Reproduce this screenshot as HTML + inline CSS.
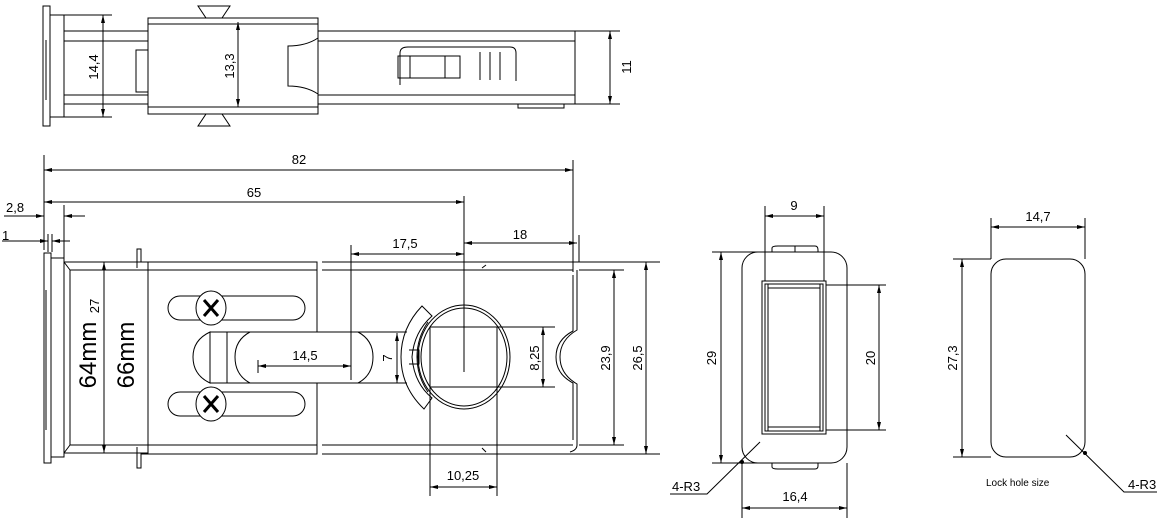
<!DOCTYPE html>
<html><head><meta charset="utf-8"><style>
html,body{margin:0;padding:0;background:#fff}
svg{display:block}
text{font-family:"Liberation Sans Narrow","Liberation Sans",sans-serif;font-size:13px;fill:#000}
</style></head><body>
<svg width="1168" height="528" viewBox="0 0 1168 528" xmlns="http://www.w3.org/2000/svg">
<defs>
<marker id="a" viewBox="0 0 8 4" refX="8" refY="2" markerWidth="8" markerHeight="4" orient="auto-start-reverse"><path d="M0,0L8,2L0,4z" fill="#000"/></marker>
</defs>
<g fill="none" stroke="#000" stroke-width="1">
<!-- TOP VIEW -->
<rect x="43" y="6" width="7" height="120"/>
<rect x="50" y="15" width="14" height="102"/>
<line x1="46" y1="40" x2="46" y2="100"/>
<line x1="64" y1="31" x2="148" y2="31"/><line x1="64" y1="41" x2="148" y2="41"/>
<line x1="64" y1="95" x2="148" y2="95"/><line x1="64" y1="104" x2="148" y2="104"/>
<line x1="64" y1="15" x2="112" y2="15"/><line x1="64" y1="117" x2="112" y2="117"/>
<line x1="103" y1="15" x2="103" y2="117" marker-start="url(#a)" marker-end="url(#a)"/>
<rect x="136" y="50" width="12" height="42"/>
<rect x="148" y="18" width="170" height="96"/>
<line x1="148" y1="24" x2="318" y2="24"/><line x1="148" y1="107" x2="318" y2="107"/>
<line x1="238" y1="22" x2="238" y2="107" marker-start="url(#a)" marker-end="url(#a)"/>
<path d="M198,6H230L222,18H206Z"/><path d="M206,114H222L230,126H198Z"/>
<path d="M318,31H575V104H318"/><line x1="318" y1="41" x2="575" y2="41"/><line x1="318" y1="95" x2="575" y2="95"/>
<path d="M318,38 Q306,46 288,46 V86 Q306,86 318,94"/>
<path d="M400,85 V53 Q400,47 408,47 H510 Q516,47 516,53 V81"/>
<rect x="398" y="56" width="62" height="22"/><line x1="410" y1="56" x2="410" y2="78"/><line x1="445" y1="56" x2="445" y2="78"/>
<line x1="480" y1="52" x2="480" y2="80"/><line x1="490" y1="52" x2="490" y2="80"/><line x1="500" y1="52" x2="500" y2="80"/>
<rect x="518" y="104" width="46" height="4"/>
<line x1="575" y1="31" x2="620" y2="31"/><line x1="575" y1="104" x2="620" y2="104"/>
<line x1="610" y1="31" x2="610" y2="104" marker-start="url(#a)" marker-end="url(#a)"/>

<!-- DIMENSIONS ABOVE -->
<line x1="44" y1="155" x2="44" y2="250"/>
<line x1="573" y1="160" x2="573" y2="272"/>
<line x1="464" y1="196" x2="464" y2="372"/>
<line x1="44" y1="170" x2="573" y2="170" marker-start="url(#a)" marker-end="url(#a)"/>
<line x1="44" y1="202" x2="464" y2="202" marker-start="url(#a)" marker-end="url(#a)"/>
<line x1="4" y1="216" x2="44" y2="216" marker-end="url(#a)"/><line x1="85" y1="216" x2="64" y2="216" marker-end="url(#a)"/>
<line x1="64" y1="205" x2="64" y2="258"/>
<line x1="2" y1="241" x2="48" y2="241" marker-end="url(#a)"/><line x1="70" y1="241" x2="52" y2="241" marker-end="url(#a)"/>
<line x1="48" y1="234" x2="48" y2="252"/><line x1="52" y1="234" x2="52" y2="252"/>
<line x1="351" y1="254" x2="464" y2="254" marker-start="url(#a)" marker-end="url(#a)"/>
<line x1="464" y1="243" x2="577" y2="243" marker-start="url(#a)" marker-end="url(#a)"/>
<line x1="579" y1="235" x2="579" y2="262"/>

<!-- MAIN BOTTOM VIEW -->
<rect x="44" y="253" width="7" height="210"/>
<rect x="51" y="258" width="13" height="199"/>
<line x1="46" y1="290" x2="46" y2="430"/>
<path d="M64,262 L70,270 V445 L64,453"/>
<line x1="64" y1="262" x2="148" y2="262"/><line x1="70" y1="270" x2="148" y2="270"/>
<line x1="70" y1="445" x2="148" y2="445"/><line x1="64" y1="453" x2="148" y2="453"/>
<line x1="100" y1="262" x2="112" y2="262"/><line x1="100" y1="453" x2="112" y2="453"/>
<line x1="104" y1="262" x2="104" y2="453" marker-start="url(#a)" marker-end="url(#a)"/>
<path d="M137,268 V249 H141 V262 H148"/><path d="M137,447 V468 H141 V454 H148"/>
<path d="M148,262 H317 V332 M317,383 V454 H148 V262"/>
<line x1="148" y1="270" x2="317" y2="270"/><line x1="148" y1="445" x2="317" y2="445"/>
<rect x="168" y="296" width="137" height="24" rx="12"/>
<rect x="168" y="392" width="137" height="24" rx="12"/>
<ellipse cx="211" cy="308" rx="15" ry="17" fill="#fff"/>
<ellipse cx="211" cy="404" rx="15" ry="17" fill="#fff"/>
<path d="M204,300L218,316M218,300L204,316" stroke-width="3"/>
<path d="M204,396L218,412M218,396L204,412" stroke-width="3"/>
<path d="M210,332 H407 M210,383 H407 M210,332 Q193,340 193,357 Q193,375 210,383 Z"/>
<line x1="227" y1="332" x2="227" y2="383"/>
<path d="M250,332 Q235,340 235,357 Q235,375 250,383"/>
<path d="M358,332 Q373,340 373,357 Q373,375 358,383"/>
<line x1="351" y1="245" x2="351" y2="380"/>
<line x1="258" y1="366" x2="351" y2="366" marker-start="url(#a)" marker-end="url(#a)"/>
<line x1="258" y1="360" x2="258" y2="373"/>
<path d="M322,262 H660 M322,454 H660"/>
<path d="M322,270 H573 M322,445 H573"/>
<path d="M577,270 V330 Q560,340 560,357 Q560,374 577,384 V445 Q577,450 570,452"/>
<path d="M573,275 V331 Q556,340 556,357 Q556,374 573,383 V440"/>
<path d="M482,268 l4,-3 M482,448 l4,4"/>
<line x1="397" y1="333" x2="397" y2="383" marker-start="url(#a)" marker-end="url(#a)"/>
<ellipse cx="464" cy="357" rx="46" ry="52"/>
<ellipse cx="464" cy="357" rx="43" ry="49"/>
<rect x="430" y="327" width="67" height="60"/>
<path d="M422,306 L432,316 Q414,332 412,357 Q414,383 432,398 L424,409 Q401,387 401,357 Q401,328 422,306 Z"/>
<path d="M428,322 Q417,338 417,357 Q417,376 428,392"/>
<path d="M409,350 H419 V364 H409"/>
<line x1="497" y1="327" x2="555" y2="327"/><line x1="497" y1="387" x2="555" y2="387"/>
<line x1="543" y1="327" x2="543" y2="387" marker-start="url(#a)" marker-end="url(#a)"/>
<line x1="464" y1="296" x2="464" y2="370"/>
<line x1="430" y1="387" x2="430" y2="496"/><line x1="497" y1="387" x2="497" y2="496"/>
<line x1="430" y1="487" x2="497" y2="487" marker-start="url(#a)" marker-end="url(#a)"/>
<line x1="579" y1="270" x2="624" y2="270"/><line x1="579" y1="445" x2="624" y2="445"/>
<line x1="614" y1="270" x2="614" y2="445" marker-start="url(#a)" marker-end="url(#a)"/>
<line x1="646" y1="262" x2="646" y2="454" marker-start="url(#a)" marker-end="url(#a)"/>

<!-- FRONT VIEW -->
<rect x="742" y="252" width="105" height="211" rx="16"/>
<path d="M772,252 V248 Q772,246 778,246 H815 Q818,246 818,250 V252 M795,246 V252"/>
<path d="M772,463 V467 Q772,469 778,469 H815 Q818,469 818,466 V463"/>
<rect x="762" y="281" width="64" height="153"/>
<rect x="765" y="284" width="58" height="147"/>
<line x1="768" y1="284" x2="768" y2="431"/><line x1="820" y1="284" x2="820" y2="431"/>
<line x1="768" y1="288" x2="820" y2="288"/><line x1="768" y1="427" x2="820" y2="427"/>
<line x1="765" y1="206" x2="765" y2="281"/><line x1="824" y1="206" x2="824" y2="281"/>
<line x1="765" y1="216" x2="824" y2="216" marker-start="url(#a)" marker-end="url(#a)"/>
<line x1="712" y1="252" x2="760" y2="252"/><line x1="712" y1="463" x2="760" y2="463"/>
<line x1="721" y1="252" x2="721" y2="463" marker-start="url(#a)" marker-end="url(#a)"/>
<line x1="826" y1="285" x2="886" y2="285"/><line x1="826" y1="430" x2="886" y2="430"/>
<line x1="879" y1="285" x2="879" y2="430" marker-start="url(#a)" marker-end="url(#a)"/>
<line x1="742" y1="463" x2="742" y2="518"/><line x1="847" y1="463" x2="847" y2="518"/>
<line x1="742" y1="508" x2="847" y2="508" marker-start="url(#a)" marker-end="url(#a)"/>
<path d="M760,442 L707,494 H670"/>
<circle cx="742" cy="462" r="1.5" fill="#000"/>

<!-- LOCK HOLE -->
<rect x="991" y="259" width="94" height="198" rx="15"/>
<line x1="991" y1="218" x2="991" y2="259"/><line x1="1085" y1="218" x2="1085" y2="259"/>
<line x1="991" y1="227" x2="1085" y2="227" marker-start="url(#a)" marker-end="url(#a)"/>
<line x1="953" y1="259" x2="991" y2="259"/><line x1="953" y1="457" x2="991" y2="457"/>
<line x1="962" y1="259" x2="962" y2="457" marker-start="url(#a)" marker-end="url(#a)"/>
<path d="M1066,435 L1124,492 H1157"/>
<circle cx="1085" cy="453" r="1.5" fill="#000"/>
</g>
<g>
<text x="299" y="164" text-anchor="middle">82</text>
<text x="254" y="197" text-anchor="middle">65</text>
<text x="6" y="212">2,8</text>
<text x="2" y="240">1</text>
<text x="405" y="248" text-anchor="middle">17,5</text>
<text x="520" y="239" text-anchor="middle">18</text>
<text x="305" y="360" text-anchor="middle">14,5</text>
<text x="463" y="480" text-anchor="middle">10,25</text>
<text transform="translate(98,67) rotate(-90)" text-anchor="middle">14,4</text>
<text transform="translate(234,66) rotate(-90)" text-anchor="middle">13,3</text>
<text transform="translate(631,67) rotate(-90)" text-anchor="middle">11</text>
<text transform="translate(99,306) rotate(-90)" text-anchor="middle">27</text>
<text transform="translate(392,358) rotate(-90)" text-anchor="middle">7</text>
<text transform="translate(539,358) rotate(-90)" text-anchor="middle">8,25</text>
<text transform="translate(610,358) rotate(-90)" text-anchor="middle">23,9</text>
<text transform="translate(642,358) rotate(-90)" text-anchor="middle">26,5</text>
<text transform="translate(96,355) rotate(-90)" text-anchor="middle" style="font-size:24px">64mm</text>
<text transform="translate(134,355) rotate(-90)" text-anchor="middle" style="font-size:24px">66mm</text>
<text x="794" y="210" text-anchor="middle">9</text>
<text transform="translate(716,358) rotate(-90)" text-anchor="middle">29</text>
<text transform="translate(875,358) rotate(-90)" text-anchor="middle">20</text>
<text x="795" y="501" text-anchor="middle">16,4</text>
<text x="672" y="491">4-R3</text>
<text x="1038" y="221" text-anchor="middle">14,7</text>
<text transform="translate(957,358) rotate(-90)" text-anchor="middle">27,3</text>
<text x="1128" y="489">4-R3</text>
<text x="986" y="486" style="font-size:10px">Lock hole size</text>
</g>
</svg>
</body></html>
